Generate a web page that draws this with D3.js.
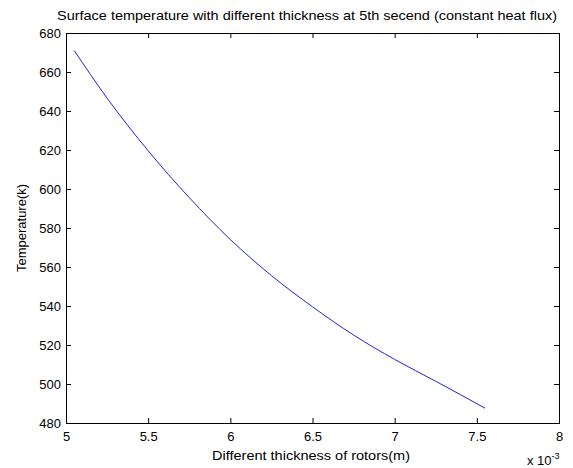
<!DOCTYPE html>
<meta charset="utf-8">
<script src="https://d3js.org/d3.v7.min.js"></script>
<style>
	body{
		margin:0;
		background:#fff;
		font-family: 'Liberation Sans', Arial, sans-serif;
	}
	text{
		fill:#000;
	}
</style>
<div id="chart"></div>

<script>

// thickness (x 10^-3 m) and surface temperature (k)
var thickness = [5.05, 5.25, 5.5, 5.75, 6.0, 6.25, 6.5, 6.75, 7.0, 7.25, 7.55]
var temperature = [671, 646.6, 619.6, 595.6, 574.1, 555.6, 539.6, 525.1, 512.6, 501.4, 487.6]

var xTicks = [5, 5.5, 6, 6.5, 7, 7.5, 8]
var yTicks = [480, 500, 520, 540, 560, 580, 600, 620, 640, 660, 680]

var titleText = "Surface temperature with different thickness at 5th secend (constant heat flux)"
var xLabel = "Different thickness of rotors(m)"
var yLabel = "Temperature(k)"

var w = 573
var h = 468
var mLeft = 66, mRight = 559, mTop = 33, mBottom = 423

var svg = d3.select("#chart").append("svg")
	.attr("width",w)
	.attr("height",h)

var x = d3.scaleLinear().domain([5,8]).range([mLeft,mRight])
var y = d3.scaleLinear().domain([480,680]).range([mBottom,mTop])

var tickLen = 5

// bottom axis, ticks pointing in
svg.append("g")
	.attr("transform","translate(0,"+mBottom+")")
	.call(d3.axisBottom(x).tickValues(xTicks).tickSizeInner(-tickLen).tickSizeOuter(0).tickPadding(9)
		.tickFormat(function(d){return d3.format("")(d)}))
	.call(function(g){
		g.select(".domain").remove()
		g.selectAll("text").style("font-size","13px")
	})

// top axis ticks
svg.append("g")
	.attr("transform","translate(0,"+mTop+")")
	.call(d3.axisTop(x).tickValues(xTicks).tickSizeInner(-tickLen).tickSizeOuter(0).tickFormat(""))
	.call(function(g){ g.select(".domain").remove() })

// left axis
svg.append("g")
	.attr("transform","translate("+mLeft+",0)")
	.call(d3.axisLeft(y).tickValues(yTicks).tickSizeInner(-tickLen).tickSizeOuter(0).tickPadding(5))
	.call(function(g){
		g.select(".domain").remove()
		g.selectAll("text").style("font-size","13px")
	})

// right axis ticks
svg.append("g")
	.attr("transform","translate("+mRight+",0)")
	.call(d3.axisRight(y).tickValues(yTicks).tickSizeInner(-tickLen).tickSizeOuter(0).tickFormat(""))
	.call(function(g){ g.select(".domain").remove() })

svg.selectAll(".tick line").attr("stroke","#000")

// box
svg.append("rect")
	.attr("x",mLeft+0.5).attr("y",mTop+0.5)
	.attr("width",mRight-mLeft).attr("height",mBottom-mTop)
	.attr("fill","none").attr("stroke","#000").attr("stroke-width",1)

// curve
var line = d3.line()
	.x(function(d,i){return x(thickness[i])})
	.y(function(d){return y(d)})
	.curve(d3.curveMonotoneX)

svg.append("path")
	.datum(temperature)
	.attr("d",line)
	.attr("fill","none")
	.attr("stroke","#2020e0")
	.attr("stroke-width",1)

// texts
svg.append("text").text(titleText)
	.attr("x",57).attr("y",20)
	.attr("textLength",500)
	.attr("lengthAdjust","spacingAndGlyphs")
	.style("font-size","13px")

svg.append("text").text(xLabel)
	.attr("x",212).attr("y",460)
	.attr("textLength",198)
	.attr("lengthAdjust","spacingAndGlyphs")
	.style("font-size","13px")

svg.append("text").text(yLabel)
	.attr("transform","translate(26,"+((mTop+mBottom)/2)+") rotate(-90)")
	.attr("text-anchor","middle")
	.style("font-size","13px")

var expo = svg.append("text")
	.attr("x",527).attr("y",465)
	.style("font-size","13px")
expo.append("tspan").text("x 10")
expo.append("tspan").text("-3").attr("dy","-6").style("font-size","9px")

</script>
